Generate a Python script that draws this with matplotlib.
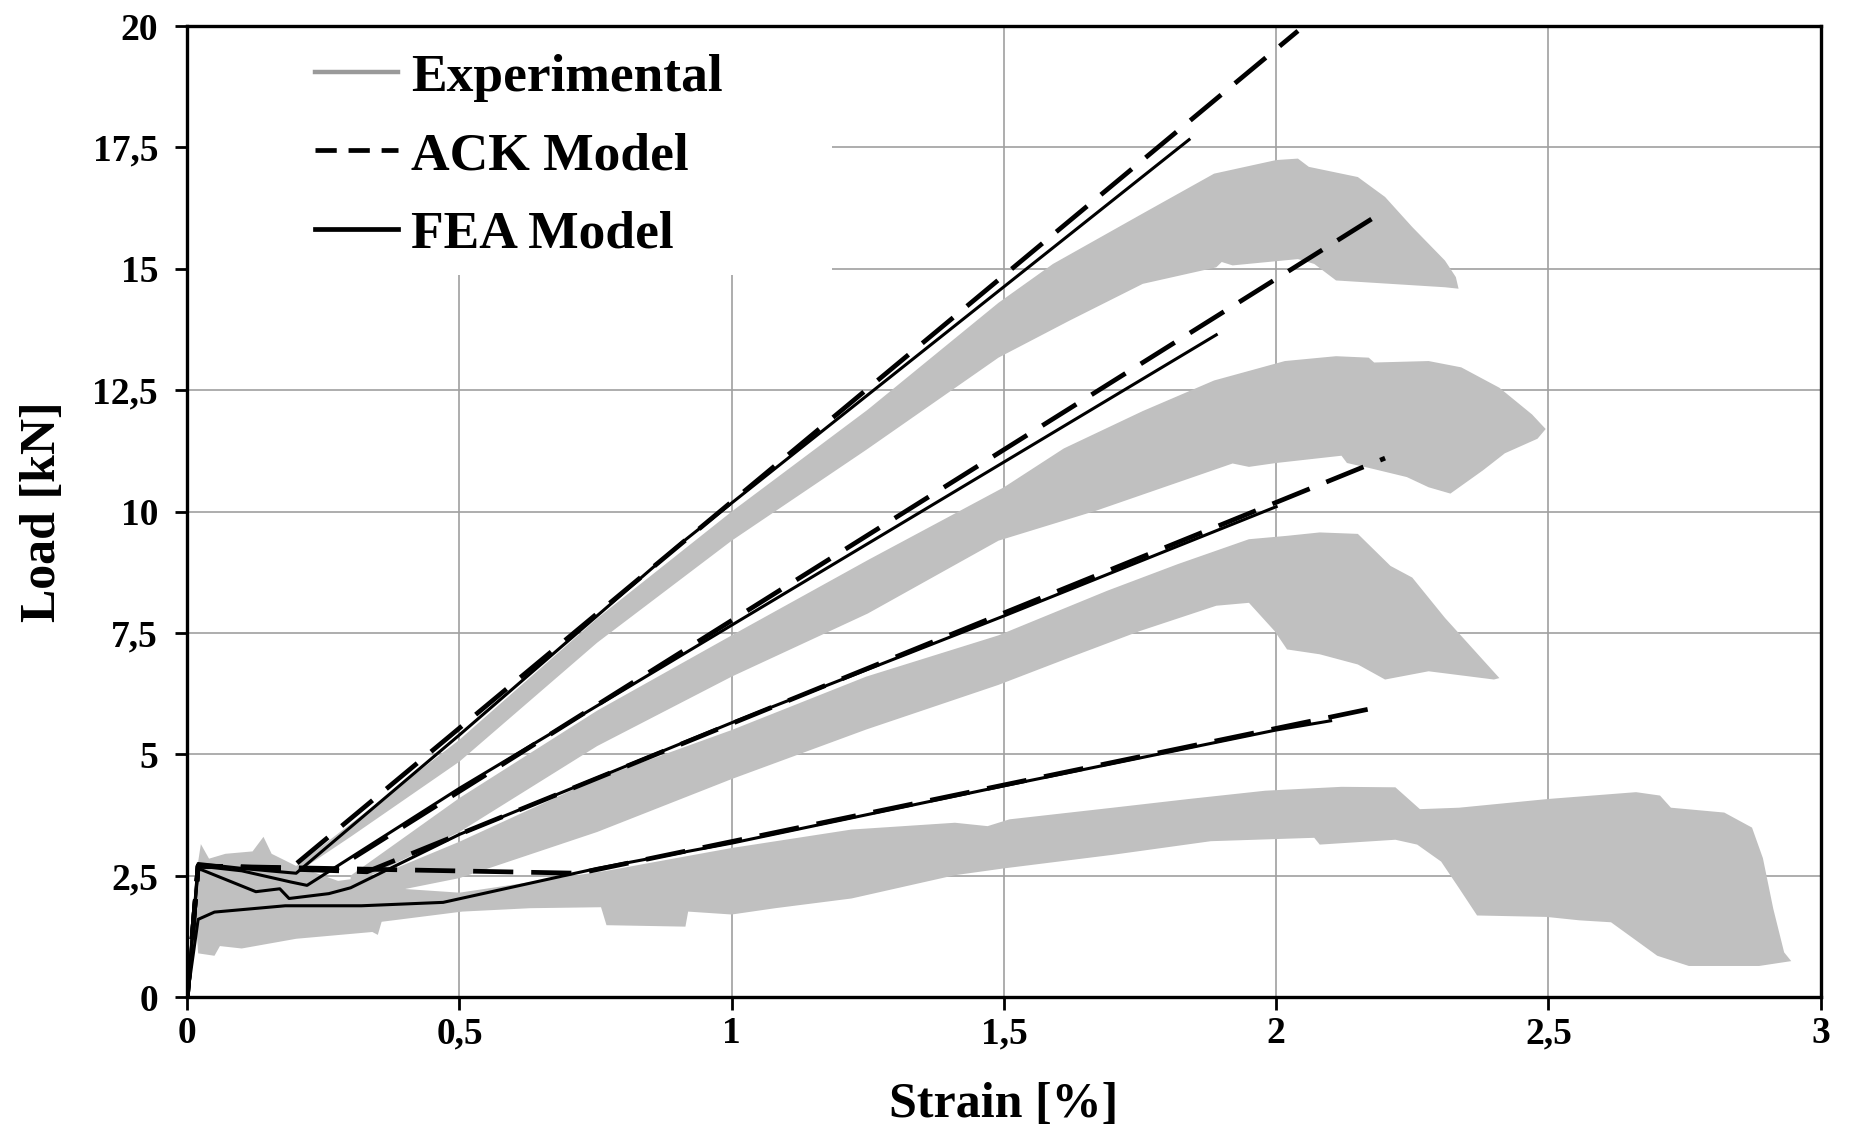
import numpy as np
import matplotlib.pyplot as plt
from matplotlib.lines import Line2D
from matplotlib.patches import Rectangle

# ---- data (strain %, load kN) ----
X_TICKS = [0, 0.5, 1, 1.5, 2, 2.5, 3]
X_TICK_LABELS = ['0', '0,5', '1', '1,5', '2', '2,5', '3']
Y_TICKS = [0, 2.5, 5, 7.5, 10, 12.5, 15, 17.5, 20]
Y_TICK_LABELS = ['0', '2,5', '5', '7,5', '10', '12,5', '15', '17,5', '20']

# experimental envelopes: upper edge (left->right), lower edge (right->left)
band1_upper = [(0.2, 2.7), (0.5, 5.3), (0.753, 7.8), (1.0, 10.0), (1.25, 12.1), (1.49, 14.3),
               (1.59, 15.1), (1.755, 16.14), (1.886, 16.96), (2.0, 17.24), (2.04, 17.27),
               (2.06, 17.1), (2.15, 16.89), (2.2, 16.48), (2.25, 15.86), (2.31, 15.17),
               (2.33, 14.83), (2.335, 14.59)]
band1_lower = [(2.31, 14.62), (2.21, 14.69), (2.11, 14.76), (2.07, 15.1), (2.04, 15.2),
               (1.92, 15.07), (1.9, 15.14), (1.89, 15.03), (1.755, 14.69), (1.62, 13.93),
               (1.49, 13.17), (1.247, 11.27), (1.0, 9.4), (0.753, 7.3), (0.5, 4.85),
               (0.3, 3.3), (0.2, 2.55)]

band2_upper = [(0.3, 2.5), (0.5, 4.1), (0.753, 5.9), (1.0, 7.45), (1.25, 9.0), (1.5, 10.5),
               (1.61, 11.3), (1.755, 12.07), (1.886, 12.7), (2.016, 13.1), (2.11, 13.2),
               (2.17, 13.17), (2.18, 13.07), (2.28, 13.1), (2.34, 12.97), (2.41, 12.55),
               (2.47, 12.0), (2.495, 11.7)]
band2_lower = [(2.48, 11.5), (2.44, 11.3), (2.42, 11.2), (2.38, 10.85), (2.32, 10.37),
               (2.28, 10.5), (2.24, 10.71), (2.17, 10.9), (2.13, 11.0), (2.12, 11.15),
               (2.0, 11.0), (1.95, 10.92), (1.92, 10.99), (1.67, 10.02), (1.49, 9.4),
               (1.25, 7.9), (1.0, 6.6), (0.753, 5.17), (0.5, 3.4), (0.3, 2.3)]

band3_upper = [(0.18, 2.25), (0.35, 2.5), (0.5, 3.2), (0.753, 4.5), (1.0, 5.5), (1.247, 6.6),
               (1.49, 7.45), (1.69, 8.37), (1.82, 8.92), (1.95, 9.43), (2.02, 9.5),
               (2.08, 9.57), (2.15, 9.54), (2.21, 8.88), (2.25, 8.64), (2.31, 7.81),
               (2.41, 6.57)]
band3_lower = [(2.40, 6.54), (2.28, 6.71), (2.2, 6.54), (2.15, 6.85), (2.08, 7.06),
               (2.02, 7.16), (1.997, 7.54), (1.95, 8.12), (1.89, 8.06), (1.75, 7.54),
               (1.62, 6.99), (1.49, 6.43), (1.247, 5.51), (1.0, 4.49), (0.753, 3.4),
               (0.5, 2.45), (0.3, 2.0), (0.18, 1.95)]

band4_upper = [(0.012, 2.2), (0.025, 3.15), (0.04, 2.85), (0.07, 2.95), (0.12, 3.0),
               (0.14, 3.3), (0.155, 2.95), (0.2, 2.7), (0.3, 2.3), (0.5, 2.15), (0.77, 2.6),
               (1.0, 3.07), (1.22, 3.45), (1.41, 3.59), (1.47, 3.52), (1.51, 3.66),
               (1.70, 3.9), (1.84, 4.08), (1.98, 4.25), (2.12, 4.33), (2.219, 4.32),
               (2.264, 3.87), (2.336, 3.9), (2.5, 4.08), (2.661, 4.22), (2.705, 4.15),
               (2.725, 3.9), (2.823, 3.8), (2.874, 3.49), (2.894, 2.86), (2.913, 1.82),
               (2.933, 0.92), (2.946, 0.74)]
band4_lower = [(2.887, 0.64), (2.758, 0.64), (2.7, 0.85), (2.615, 1.54), (2.557, 1.58),
               (2.497, 1.65), (2.369, 1.68), (2.336, 2.24), (2.303, 2.79), (2.259, 3.14),
               (2.219, 3.24), (2.08, 3.14), (2.07, 3.28), (1.88, 3.21), (1.70, 2.93),
               (1.5, 2.65), (1.41, 2.51), (1.22, 2.03), (1.08, 1.83), (1.0, 1.7),
               (0.92, 1.76), (0.915, 1.45), (0.77, 1.48), (0.76, 1.85), (0.63, 1.83),
               (0.505, 1.76), (0.357, 1.55), (0.35, 1.28), (0.34, 1.34), (0.2, 1.2),
               (0.1, 1.0), (0.06, 1.05), (0.05, 0.85), (0.02, 0.9)]

# ACK model
ack1_x = [0, 0.02, 0.19, 2.04]
ack1_y = [0, 2.7, 2.65, 19.9]
ack2_x = [0, 0.02, 0.27, 2.2]
ack2_y = [0, 2.7, 2.62, 16.2]
ack3_x = [0, 0.02, 0.33, 2.2]
ack3_y = [0, 2.7, 2.58, 11.1]
ack4_x = [0, 0.02, 0.72, 2.2]
ack4_y = [0, 2.7, 2.55, 6.0]

# FEA model
fea1_x = [0, 0.02, 0.1, 0.2, 0.5, 0.905, 1.84]
fea1_y = [0, 2.75, 2.65, 2.55, 5.4, 9.33, 17.66]
fea2_x = [0, 0.02, 0.1, 0.19, 0.22, 0.5, 1.89]
fea2_y = [0, 2.7, 2.6, 2.37, 2.3, 4.3, 13.64]
fea3_x = [0, 0.02, 0.126, 0.17, 0.187, 0.26, 0.3, 0.5, 1.0, 1.5, 2.0]
fea3_y = [0, 2.65, 2.17, 2.23, 2.03, 2.13, 2.25, 3.35, 5.65, 7.85, 10.1]
fea4_x = [0, 0.02, 0.05, 0.18, 0.32, 0.47, 0.753, 1.0, 1.5, 2.0, 2.1]
fea4_y = [0, 1.6, 1.75, 1.88, 1.88, 1.95, 2.65, 3.17, 4.35, 5.5, 5.69]

FONT = 'Liberation Serif'
BAND_COLOR = '#c0c0c0'

fig = plt.figure(figsize=(18.54, 11.33), dpi=100)
ax = fig.add_axes([0.101, 0.12, 0.881, 0.857])
ax.set_axisbelow(True)

# experimental bands
for upper, lower in [(band1_upper, band1_lower), (band2_upper, band2_lower),
                     (band3_upper, band3_lower), (band4_upper, band4_lower)]:
    poly = np.array(upper + lower)
    ax.fill(poly[:, 0], poly[:, 1], color=BAND_COLOR, lw=0, zorder=2)

# ACK (dashed)
for xs, ys in [(ack1_x, ack1_y), (ack2_x, ack2_y), (ack3_x, ack3_y), (ack4_x, ack4_y)]:
    ax.plot(xs, ys, color='black', lw=3.4, dashes=(8.5, 3.8), zorder=3,
            solid_capstyle='butt', dash_capstyle='butt')

# FEA (solid)
for xs, ys in [(fea1_x, fea1_y), (fea2_x, fea2_y), (fea3_x, fea3_y), (fea4_x, fea4_y)]:
    ax.plot(xs, ys, color='black', lw=2.2, zorder=4)

ax.set_xlim(0, 3)
ax.set_ylim(0, 20)
ax.set_xticks(X_TICKS)
ax.set_xticklabels(X_TICK_LABELS)
ax.set_yticks(Y_TICKS)
ax.set_yticklabels(Y_TICK_LABELS)
ax.grid(True, color='#a0a0a0', lw=1.2)
for s in ax.spines.values():
    s.set_linewidth(2.4)
    s.set_color('black')
ax.tick_params(direction='out', length=9, width=2)
ax.tick_params(axis='x', pad=5)
ax.tick_params(axis='y', pad=12)
for lab in ax.get_xticklabels() + ax.get_yticklabels():
    lab.set_fontfamily(FONT)
    lab.set_fontweight('bold')
    lab.set_fontsize(27)

ax.set_xlabel('Strain [%]', fontfamily=FONT, fontweight='bold', fontsize=36, labelpad=22)
ax.set_ylabel('Load [kN]', fontfamily=FONT, fontweight='bold', fontsize=36, labelpad=19)

# white area behind the legend (hides grid there)
ax.add_patch(Rectangle((0, 0.744), 0.395, 0.256, transform=ax.transAxes,
                       facecolor='white', edgecolor='none', zorder=1))

handles = [Line2D([], [], color='#9a9a9a', lw=3.2),
           Line2D([], [], color='black', lw=3.4, dashes=(4.5, 2.5)),
           Line2D([], [], color='black', lw=3.4)]
ax.legend(handles, ['Experimental', 'ACK Model', 'FEA Model'], loc='upper left',
          bbox_to_anchor=(0.078, 0.972), frameon=False, borderpad=0, borderaxespad=0,
          handlelength=1.55, handletextpad=0.25, labelspacing=0.56,
          prop={'family': FONT, 'weight': 'bold', 'size': 38.5})

fig.savefig('out.png', dpi=100)
